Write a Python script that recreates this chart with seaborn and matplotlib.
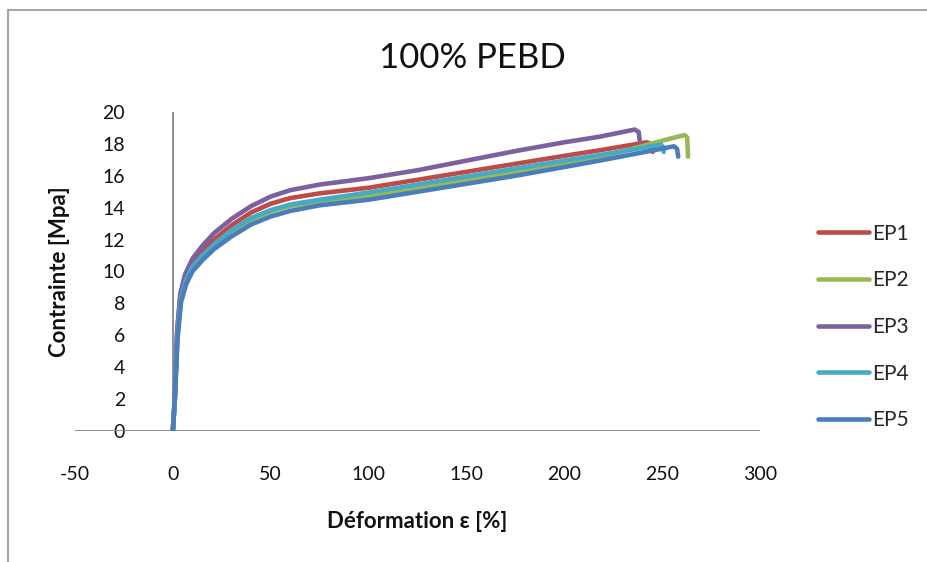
import matplotlib
matplotlib.use("Agg")
import matplotlib.pyplot as plt
from matplotlib.lines import Line2D
import numpy as np
import pandas as pd
import seaborn as sns

# Tensile curves of 100% PEBD specimens: strain (%) and stress (MPa)
series_names = ["EP1", "EP2", "EP3", "EP4", "EP5"]
series_colors = ["#BE4B48", "#98B954", "#7D60A0", "#46AAC5", "#4A7EBB"]

ep1_strain = [0, 1, 2.2, 3.8, 6.3, 10, 15, 21, 30, 40, 50, 60, 75, 100, 125, 150, 175, 200, 218, 235, 242, 244.5, 245.2]
ep1_stress = [0, 2.1, 6.2, 8.5, 9.6, 10.6, 11.3, 12.0, 12.9, 13.7, 14.25, 14.6, 14.9, 15.25, 15.75, 16.25, 16.75, 17.25, 17.6, 17.95, 18.1, 18.0, 17.5]

ep2_strain = [0, 1, 2.3, 4, 6.6, 10, 15, 21, 30, 40, 50, 60, 75, 100, 125, 150, 175, 200, 218, 235, 250, 258, 261.5, 262.8, 263.2]
ep2_stress = [0, 2.0, 5.9, 8.2, 9.3, 10.2, 10.9, 11.6, 12.5, 13.25, 13.75, 14.1, 14.4, 14.75, 15.25, 15.75, 16.25, 16.8, 17.15, 17.7, 18.2, 18.45, 18.55, 18.4, 17.2]

ep3_strain = [0, 1, 2.2, 3.8, 6.2, 10, 15, 21, 30, 40, 50, 60, 75, 100, 125, 150, 175, 200, 218, 230, 236, 238, 238.5]
ep3_stress = [0, 2.1, 6.3, 8.6, 9.8, 10.8, 11.6, 12.4, 13.3, 14.1, 14.7, 15.1, 15.45, 15.85, 16.35, 16.95, 17.55, 18.1, 18.45, 18.75, 18.9, 18.75, 18.25]

ep4_strain = [0, 1, 2.3, 4, 6.5, 10, 15, 21, 30, 40, 50, 60, 75, 100, 125, 150, 175, 200, 218, 235, 247, 249.5, 250.5, 250.8]
ep4_stress = [0, 2.0, 6.0, 8.3, 9.4, 10.3, 11.0, 11.7, 12.6, 13.35, 13.85, 14.2, 14.5, 14.95, 15.45, 15.95, 16.45, 16.95, 17.3, 17.65, 17.9, 17.95, 17.8, 17.5]

ep5_strain = [0, 1, 2.4, 4.2, 6.8, 10, 15, 21, 30, 40, 50, 60, 75, 100, 125, 150, 175, 200, 218, 235, 250, 256, 257.6, 258.2]
ep5_stress = [0, 1.9, 5.8, 8.1, 9.2, 10.0, 10.7, 11.4, 12.2, 12.95, 13.45, 13.8, 14.15, 14.5, 15.0, 15.5, 16.0, 16.55, 16.95, 17.35, 17.7, 17.85, 17.7, 17.2]

x_ticks = [-50, 0, 50, 100, 150, 200, 250, 300]
y_ticks = [0, 2, 4, 6, 8, 10, 12, 14, 16, 18, 20]

strains = [ep1_strain, ep2_strain, ep3_strain, ep4_strain, ep5_strain]
stresses = [ep1_stress, ep2_stress, ep3_stress, ep4_stress, ep5_stress]

frames = []
for name, s, t in zip(series_names, strains, stresses):
    frames.append(pd.DataFrame({"strain": s, "stress": t, "serie": name,
                                "order": np.arange(len(s))}))
df = pd.concat(frames, ignore_index=True)

sns.set_style("white")
plt.rcParams["font.family"] = ["Lato", "DejaVu Sans"]
plt.rcParams["axes.unicode_minus"] = False

W, H = 928, 562
fig = plt.figure(figsize=(W / 100, H / 100), dpi=100)
ax = fig.add_axes([75 / W, 1 - 431 / H, (760 - 75) / W, (431 - 112) / H])

sns.lineplot(data=df, x="strain", y="stress", hue="serie", hue_order=series_names,
             palette=series_colors, sort=False, estimator=None, units="serie",
             linewidth=3.3, legend=False, ax=ax, zorder=3)

ax.set_xlim(-50, 300)
ax.set_ylim(0, 20)
ax.set_xticks(x_ticks)
ax.set_yticks(y_ticks)
for sp in ax.spines.values():
    sp.set_visible(False)

# axis lines crossing at the origin
ax.plot([-50, 300], [0, 0], color="#878787", lw=1.3, zorder=2)
ax.plot([0, 0], [0, 20], color="#878787", lw=1.3, zorder=2)

ax.tick_params(axis="x", length=0, pad=25, labelsize=14, colors="#111111")
ax.tick_params(axis="y", length=0, pad=-36, labelsize=14, colors="#111111")
for lbl in ax.get_yticklabels():
    lbl.set_horizontalalignment("right")

ax.set_xlabel("Déformation ε [%]", fontsize=16, fontweight="bold", color="#111111")
ax.set_ylabel("Contrainte [Mpa]", fontsize=16, fontweight="bold", color="#111111")
ax.xaxis.label.set_va("center")
ax.yaxis.label.set_va("center")
ax.xaxis.set_label_coords(0.5, -(522 - 431) / (431 - 112))
ax.yaxis.set_label_coords(-(75 - 60) / (760 - 75), 0.5)

fig.text(472 / W, 1 - 68 / H, "100% PEBD", ha="center", va="baseline",
         fontsize=25, color="#111111")

handles = [Line2D([0], [0], color=c, lw=3.3) for c in series_colors]
ax.legend(handles, series_names, loc="center left",
          bbox_to_anchor=(1.057, (431 - 327) / (431 - 112)),
          frameon=False, fontsize=15, handlelength=2.45, handletextpad=0.15,
          labelspacing=1.28)

# chart area border
fig.add_artist(Line2D([8 / W, 1], [1 - 10 / H, 1 - 10 / H], transform=fig.transFigure,
                      color="#A6A6A6", lw=1.5))
fig.add_artist(Line2D([8 / W, 8 / W], [0, 1 - 10 / H], transform=fig.transFigure,
                      color="#A6A6A6", lw=1.5))

fig.savefig("out.png", dpi=100, facecolor="white")
